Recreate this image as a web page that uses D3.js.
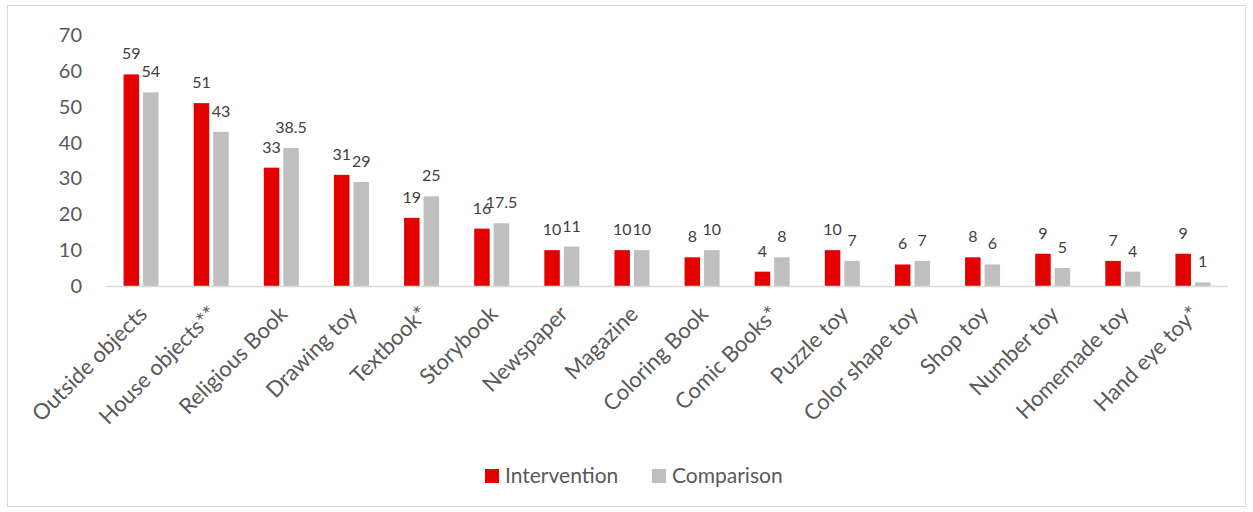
<!DOCTYPE html>
<meta charset="utf-8">
<head>
    <style>
        body { margin: 0; background: #fff; }
        text { font-family: Lato, "Open Sans", sans-serif; }
    </style>
</head>
<body>
    <svg width="1253" height="512"></svg>
</body>
<script src="https://d3js.org/d3.v7.min.js"></script>
<script>

    var categories = ["Outside objects", "House objects**", "Religious Book", "Drawing toy", "Textbook*",
        "Storybook", "Newspaper", "Magazine", "Coloring Book", "Comic Books*", "Puzzle toy",
        "Color shape toy", "Shop toy", "Number toy", "Homemade toy", "Hand eye toy*"];
    var intervention = [59, 51, 33, 31, 19, 16, 10, 10, 8, 4, 10, 6, 8, 9, 7, 9];
    var comparison = [54, 43, 38.5, 29, 25, 17.5, 11, 10, 10, 8, 7, 7, 6, 5, 4, 1];
    var yTicks = [0, 10, 20, 30, 40, 50, 60, 70];
    var seriesNames = ["Intervention", "Comparison"];
    var colors = ["#e50000", "#bfbfbf"];

    var svg = d3.select("svg"),
        plotLeft = 106, plotRight = 1228, plotTop = 35, base = 286;

    // outer frame
    svg.append("rect")
        .attr("x", 7.5).attr("y", 5.5)
        .attr("width", 1238).attr("height", 501)
        .attr("fill", "none")
        .attr("stroke", "#d9d9d9");

    var x = d3.scaleBand()
        .domain(categories)
        .range([plotLeft, plotRight]);

    var y = d3.scaleLinear()
        .domain([0, 70])
        .range([base, plotTop]);

    var barW = 15.5, gap = 4;

    // y labels
    svg.append("g")
        .selectAll("text")
        .data(yTicks)
        .enter().append("text")
        .attr("x", 82)
        .attr("y", function (d) { return y(d); })
        .attr("dy", "0.35em")
        .attr("text-anchor", "end")
        .attr("fill", "#595959")
        .style("font-size", "20px")
        .text(function (d) { return d; });

    var rows = categories.map(function (c, i) {
        return { cat: c, vals: [intervention[i], comparison[i]] };
    });

    var groups = svg.append("g")
        .selectAll("g")
        .data(rows)
        .enter().append("g");

    [0, 1].forEach(function (s) {
        function bx(d) {
            var c = x(d.cat) + x.bandwidth() / 2;
            return s === 0 ? c - gap / 2 - barW : c + gap / 2;
        }
        groups.append("rect")
            .attr("x", bx)
            .attr("y", function (d) { return y(d.vals[s]); })
            .attr("width", barW)
            .attr("height", function (d) { return base - y(d.vals[s]); })
            .attr("fill", colors[s]);

        groups.append("text")
            .attr("x", function (d) { return bx(d) + barW / 2; })
            .attr("y", function (d) { return y(d.vals[s]) - 15; })
            .attr("text-anchor", "middle")
            .attr("fill", "#404040")
            .style("font-size", "16px")
            .text(function (d) { return d.vals[s]; });
    });

    // x axis line
    svg.append("line")
        .attr("x1", plotLeft).attr("x2", plotRight)
        .attr("y1", base + 0.5).attr("y2", base + 0.5)
        .attr("stroke", "#d9d9d9")
        .attr("stroke-width", 1.5);

    // category labels
    svg.append("g")
        .selectAll("text")
        .data(categories)
        .enter().append("text")
        .attr("transform", function (d) {
            return "translate(" + (x(d) + x.bandwidth() / 2 + 2) + "," + (base + 24) + ") rotate(-45)";
        })
        .attr("text-anchor", "end")
        .attr("dy", "0.35em")
        .attr("fill", "#595959")
        .style("font-size", "22px")
        .text(function (d) { return d; });

    // legend
    var legend = svg.append("g")
        .selectAll("g")
        .data(seriesNames)
        .enter().append("g")
        .attr("transform", function (d, i) { return "translate(" + (485 + i * 167) + ",469)"; });

    legend.append("rect")
        .attr("width", 14).attr("height", 14)
        .attr("fill", function (d, i) { return colors[i]; });

    legend.append("text")
        .attr("x", 20).attr("y", 7)
        .attr("dy", "0.35em")
        .attr("fill", "#595959")
        .style("font-size", "21px")
        .text(function (d) { return d; });

</script>
